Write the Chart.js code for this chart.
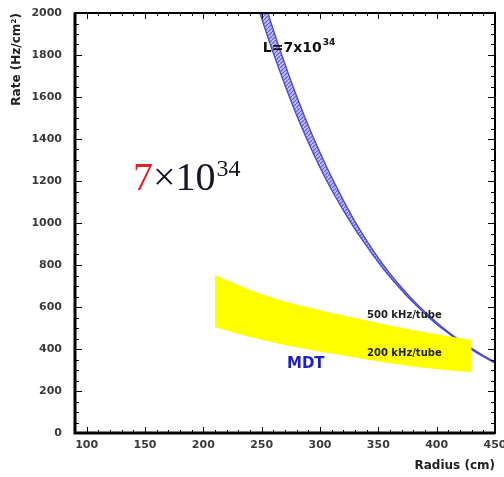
<!DOCTYPE html>
<html>
<head>
<meta charset="utf-8">
<title>Rate vs radius</title>
<script src="https://cdn.jsdelivr.net/npm/chart.js@4.4.0/dist/chart.umd.min.js"></script>
<style>
  body { margin: 0; background: #fff; }
  canvas { display: block; }
</style>
</head>
<body>
<canvas id="rate-chart" width="504" height="477"></canvas>
<script>
// Background rate at L=7x10^34 (drawn as a narrow double-line band)
const curveRadius = [245, 252, 260, 270, 280, 290, 300, 310, 320, 330, 340, 350, 360, 370, 380, 390, 400, 410, 420, 430, 440, 450, 455];
const curveLow = [2059, 1940, 1809, 1656, 1513, 1383, 1264, 1157, 1060, 971, 890, 813, 743, 680, 621, 568, 518, 475, 434, 397, 363, 332, 317];
const curveHigh = [2189, 2060, 1919, 1756, 1603, 1463, 1336, 1217, 1108, 1007, 916, 833, 759, 692, 631, 576, 526, 481, 440, 403, 369, 338, 323];

// MDT band, between 200 and 500 kHz/tube
const mdtRadius = [210, 240, 270, 300, 330, 360, 390, 430];
const mdtTop = [752, 681, 626, 585, 548, 512, 480, 443];
const mdtBottom = [505, 457, 419, 388, 360, 332, 310, 290];

// Axis tick labels
const xTickLabels = [100, 150, 200, 250, 300, 350, 400, 450];
const yTickLabels = [0, 200, 400, 600, 800, 1000, 1200, 1400, 1600, 1800, 2000];

function toPoints(xs, ys) {
    return xs.map((x, i) => ({ x: x, y: ys[i] }));
}

// small diagonal hatch used between the two blue lines
function makeHatch() {
    const c = document.createElement('canvas');
    c.width = 4;
    c.height = 4;
    const g = c.getContext('2d');
    g.fillStyle = 'rgba(190,190,245,1)';
    g.fillRect(0, 0, 4, 4);
    g.strokeStyle = 'rgb(95,95,215)';
    g.lineWidth = 1.2;
    g.beginPath();
    g.moveTo(0, 4);
    g.lineTo(4, 0);
    g.stroke();
    return g.createPattern(c, 'repeat');
}

// inward ticks on all four sides plus the frame
const frameAndTicks = {
    id: 'frameAndTicks',
    afterDraw(chart) {
        const { ctx, chartArea: a, scales: { x, y } } = chart;
        ctx.save();
        ctx.strokeStyle = '#000';
        ctx.lineWidth = 1;
        ctx.beginPath();
        for (let v = 90; v <= 450; v += 10) {
            const px = Math.round(x.getPixelForValue(v)) + 0.5;
            const len = v % 50 === 0 ? 6 : 3;
            ctx.moveTo(px, a.bottom);
            ctx.lineTo(px, a.bottom - len);
            ctx.moveTo(px, a.top);
            ctx.lineTo(px, a.top + len);
        }
        for (let v = 0; v <= 2000; v += 50) {
            const py = Math.round(y.getPixelForValue(v)) + 0.5;
            const len = v % 200 === 0 ? 7 : 4;
            ctx.moveTo(a.left, py);
            ctx.lineTo(a.left + len, py);
            ctx.moveTo(a.right, py);
            ctx.lineTo(a.right - len, py);
        }
        ctx.stroke();

        ctx.lineWidth = 2;
        ctx.strokeRect(a.left, a.top, a.right - a.left, a.bottom - a.top);
        ctx.lineWidth = 3;
        ctx.beginPath();
        ctx.moveTo(a.left, a.top);
        ctx.lineTo(a.left, a.bottom);
        ctx.lineTo(a.right, a.bottom);
        ctx.stroke();
        ctx.restore();
    }
};

// text notes placed in data coordinates
const notes = {
    id: 'notes',
    afterDatasetsDraw(chart) {
        const { ctx, scales: { x, y } } = chart;
        ctx.save();
        ctx.textBaseline = 'middle';
        ctx.textAlign = 'left';

        // L=7x10^34
        let px = x.getPixelForValue(251);
        let py = y.getPixelForValue(1833);
        ctx.fillStyle = '#111';
        ctx.font = 'bold 14px "DejaVu Sans"';
        ctx.fillText('L=7x10', px, py);
        let w = ctx.measureText('L=7x10').width;
        ctx.font = 'bold 9px "DejaVu Sans"';
        ctx.fillText('34', px + w + 1, py - 5);

        // big 7x10^34
        px = x.getPixelForValue(139.7);
        py = y.getPixelForValue(1157);
        ctx.textBaseline = 'alphabetic';
        ctx.font = '40px "Liberation Serif"';
        ctx.fillStyle = '#e0202a';
        ctx.fillText('7', px, py);
        w = ctx.measureText('7').width;
        ctx.fillStyle = '#15152a';
        ctx.fillText('\u00d710', px + w, py);
        w += ctx.measureText('\u00d710').width;
        ctx.font = '24px "Liberation Serif"';
        ctx.fillText('34', px + w + 1, py - 14);

        // kHz/tube labels
        ctx.textBaseline = 'middle';
        ctx.font = 'bold 10px "DejaVu Sans"';
        ctx.fillStyle = '#222';
        ctx.fillText('500 kHz/tube', x.getPixelForValue(340.3), y.getPixelForValue(562));
        ctx.fillText('200 kHz/tube', x.getPixelForValue(340.3), y.getPixelForValue(381));

        // MDT
        ctx.font = 'bold 15px "DejaVu Sans"';
        ctx.fillStyle = '#1e1ec8';
        ctx.fillText('MDT', x.getPixelForValue(271.7), y.getPixelForValue(329));
        ctx.restore();
    }
};

const tickFont = { family: 'DejaVu Sans', size: 11, weight: 'bold' };

function displayRateChart() {
    const blue = 'rgb(75,75,205)';
    new Chart('rate-chart', {
        type: 'line',
        data: {
            datasets: [
                {
                    data: toPoints(mdtRadius, mdtTop),
                    borderWidth: 0,
                    borderColor: 'rgba(0,0,0,0)',
                    pointRadius: 0,
                    tension: 0.3,
                    fill: false,
                },
                {
                    data: toPoints(mdtRadius, mdtBottom),
                    borderWidth: 0,
                    borderColor: 'rgba(0,0,0,0)',
                    backgroundColor: '#ffff00',
                    pointRadius: 0,
                    tension: 0.3,
                    fill: '-1',
                },
                {
                    data: toPoints(curveRadius, curveHigh),
                    borderColor: blue,
                    borderWidth: 1.4,
                    pointRadius: 0,
                    cubicInterpolationMode: 'monotone',
                    fill: false,
                },
                {
                    data: toPoints(curveRadius, curveLow),
                    borderColor: blue,
                    borderWidth: 1.4,
                    backgroundColor: makeHatch(),
                    pointRadius: 0,
                    cubicInterpolationMode: 'monotone',
                    fill: '-1',
                },
            ],
        },
        options: {
            responsive: false,
            animation: false,
            layout: { padding: { top: 13, right: 9, left: 0, bottom: 0 } },
            plugins: {
                legend: { display: false },
                tooltip: { enabled: false },
            },
            scales: {
                x: {
                    type: 'linear',
                    min: 90,
                    max: 450,
                    grid: { display: false, drawTicks: false },
                    border: { display: false },
                    afterBuildTicks: s => { s.ticks = xTickLabels.map(v => ({ value: v })); },
                    afterFit: s => { s.height = 44; s.paddingLeft = 0; s.paddingRight = 0; },
                    ticks: {
                        font: tickFont, color: '#3a3a3a', padding: 6, maxRotation: 0, autoSkip: false,
                        callback: v => String(v),
                    },
                    title: {
                        display: true,
                        text: 'Radius (cm)',
                        align: 'end',
                        color: '#222',
                        font: { family: 'DejaVu Sans', size: 12, weight: 'bold' },
                        padding: { top: 0, bottom: 4 },
                    },
                },
                y: {
                    type: 'linear',
                    min: 0,
                    max: 2000,
                    grid: { display: false, drawTicks: false },
                    border: { display: false },
                    afterBuildTicks: s => { s.ticks = yTickLabels.map(v => ({ value: v })); },
                    afterFit: s => { s.width = 75; s.paddingTop = 0; s.paddingBottom = 0; },
                    ticks: {
                        font: tickFont, color: '#3a3a3a', padding: 13, autoSkip: false,
                        callback: v => String(v),
                    },
                    title: {
                        display: true,
                        text: 'Rate (Hz/cm\u00b2)',
                        align: 'end',
                        color: '#222',
                        font: { family: 'DejaVu Sans', size: 12, weight: 'bold' },
                        padding: { top: 10, bottom: 0 },
                    },
                },
            },
        },
        plugins: [frameAndTicks, notes],
    });
}

displayRateChart();
</script>
</body>
</html>
